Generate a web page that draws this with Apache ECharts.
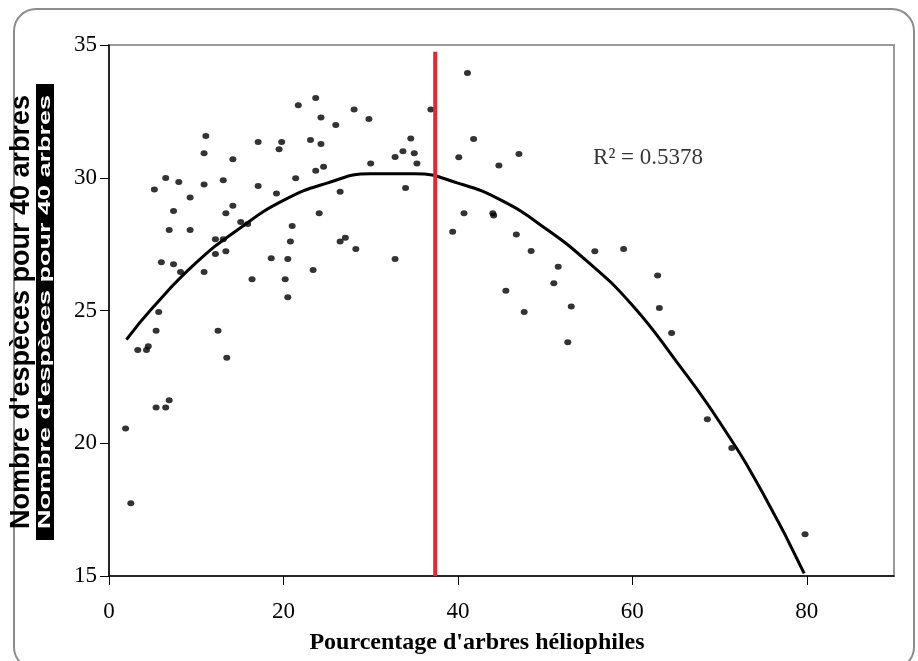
<!DOCTYPE html>
<html>
<head>
<meta charset="utf-8">
<script src="https://cdn.jsdelivr.net/npm/echarts@6/dist/echarts.min.js"></script>
<style>
  html, body {margin: 0; padding: 0; background: #fff;}
  #chart {width: 918px; height: 661px;}
</style>
</head>
<body>
<div id="chart"></div>
<script>
// points
const pctHelio = [
  1.9, 2.5, 3.3, 4.3, 4.5, 5.2, 5.4, 5.7, 5.4, 6.0,
  6.5, 6.5, 6.9, 6.9, 7.4, 7.4, 8.0, 8.2, 9.3, 9.3,
  11.1, 10.9, 10.9, 10.9, 12.2, 12.2, 13.1, 13.1, 13.4, 13.4,
  12.5, 13.5, 14.2, 14.2, 15.1, 15.9, 16.4, 17.1, 17.1, 18.6,
  19.2, 19.5, 19.8, 20.2, 20.5, 20.5, 20.8, 21.0, 21.4, 21.7,
  23.1, 23.4, 23.7, 23.7, 24.1, 24.3, 24.3, 24.6, 26.0, 26.5,
  26.5, 27.1, 28.1, 28.3, 29.8, 30.0, 32.8, 32.8, 33.7, 34.0,
  34.6, 35.0, 35.3, 36.9, 39.4, 40.1, 40.7, 41.1, 41.8, 44.0,
  44.1, 44.7, 45.5, 46.7, 47.0, 47.6, 48.4, 51.0, 51.5, 52.6,
  53.0, 55.7, 59.0, 62.9, 63.1, 64.5, 68.6, 71.4, 79.8
];
const nbEspeces = [
  20.56, 17.74, 23.51, 23.51, 23.65, 29.56, 24.24, 24.94, 21.35, 26.82,
  29.99, 21.35, 21.62, 28.03, 28.75, 26.74, 29.84, 26.45, 29.26, 28.03,
  31.57, 30.92, 29.75, 26.45, 27.68, 27.13, 29.91, 27.68, 28.66, 27.23,
  24.24, 23.22, 30.70, 28.95, 28.33, 28.26, 26.18, 31.35, 29.69, 26.97,
  29.41, 31.07, 31.35, 26.18, 26.94, 25.50, 27.60, 28.18, 29.98, 32.73,
  31.42, 26.53, 33.00, 30.26, 28.66, 32.27, 31.27, 30.41, 31.99, 29.47,
  27.60, 27.74, 32.57, 27.32, 32.21, 30.54, 26.94, 30.78, 31.00, 29.61,
  31.48, 30.92, 30.54, 32.57, 27.97, 30.77, 28.66, 33.95, 31.46, 28.66,
  28.58, 30.46, 25.74, 27.86, 30.89, 24.94, 27.24, 26.03, 26.65, 23.80,
  25.15, 27.23, 27.32, 26.32, 25.09, 24.15, 20.90, 19.82, 16.57
];

// polynomial trend line
const trendX = [2, 5, 10, 15, 20, 25, 30, 35, 40, 45, 50, 55, 60, 65, 70, 75, 79.7];
const trendY = [23.9, 25.1, 26.8, 28.1, 29.15, 29.8, 30.15, 30.15, 29.8, 29.15, 28.1, 26.8, 25.2, 23.1, 20.8, 18.1, 15.1];

const redLineX = 37.4;
const redLineY = [15, 34.75];

const r2Label = 'R² = 0.5378';
const r2Pos = [55.5, 30.74];

const xTicks = [0, 20, 40, 60, 80];
const yTicks = [15, 20, 25, 30, 35];

const xTitle = "Pourcentage d'arbres héliophiles";
const yTitle = "Nombre d'espèces pour 40 arbres";

const chart = echarts.init(document.getElementById('chart'));

const serif = 'Liberation Serif, Times New Roman, serif';
const sans = 'Liberation Sans, Arial, sans-serif';

chart.setOption({
  animation: false,
  grid: {
    left: 109, right: 24, top: 45, bottom: 85,
    show: true, borderColor: '#999', borderWidth: 2
  },
  xAxis: {
    type: 'value', min: 0, max: 90,
    splitLine: {show: false},
    axisLine: {lineStyle: {color: '#000', width: 1.5}},
    axisTick: {length: 9, lineStyle: {color: '#000'}, customValues: xTicks},
    axisLabel: {
      customValues: xTicks, margin: 24,
      fontFamily: serif, fontSize: 23, color: '#000'
    }
  },
  yAxis: {
    type: 'value', min: 15, max: 35, interval: 5,
    splitLine: {show: false},
    axisLine: {show: true, lineStyle: {color: '#000', width: 1.5}},
    axisTick: {show: true, length: 9, lineStyle: {color: '#000'}, customValues: yTicks},
    axisLabel: {
      customValues: yTicks, margin: 12,
      fontFamily: serif, fontSize: 23, color: '#000'
    }
  },
  graphic: [
    {
      type: 'rect', silent: true,
      shape: {x: 14, y: 9, width: 900, height: 660, r: 22},
      style: {fill: 'none', stroke: '#8c8c8c', lineWidth: 2}
    },
    {
      type: 'text', x: 477, y: 643,
      style: {
        text: xTitle, font: 'bold 24px ' + serif,
        fill: '#000', align: 'center', verticalAlign: 'middle'
      }
    },
    {
      type: 'text', x: 22, y: 312, rotation: Math.PI / 2,
      style: {
        text: yTitle, font: 'bold 27px ' + sans,
        fill: '#000', align: 'center', verticalAlign: 'middle'
      }
    },
    {
      type: 'rect', silent: true,
      shape: {x: 36, y: 84, width: 18, height: 456},
      style: {fill: '#000'}
    },
    {
      type: 'text', x: 45, y: 312, rotation: Math.PI / 2, scaleY: 0.62,
      style: {
        text: yTitle, font: 'bold 27px ' + sans,
        fill: '#fff', align: 'center', verticalAlign: 'middle'
      }
    }
  ],
  series: [
    {
      type: 'scatter',
      data: pctHelio.map((x, i) => [x, nbEspeces[i]]),
      symbol: 'circle',
      symbolSize: [7, 6],
      itemStyle: {color: '#000'},
      z: 3
    },
    {
      type: 'line',
      data: trendX.map((x, i) => [x, trendY[i]]),
      smooth: true,
      symbol: 'none',
      lineStyle: {color: '#000', width: 3},
      z: 2
    },
    {
      type: 'line',
      data: redLineY.map(y => [redLineX, y]),
      symbol: 'none',
      lineStyle: {color: '#e8262c', width: 4},
      z: 4
    },
    {
      type: 'scatter',
      data: [r2Pos],
      symbolSize: 0,
      label: {
        show: true, position: 'right', distance: 0,
        formatter: r2Label,
        fontFamily: serif, fontSize: 23, color: '#000'
      }
    }
  ]
});
</script>
</body>
</html>
